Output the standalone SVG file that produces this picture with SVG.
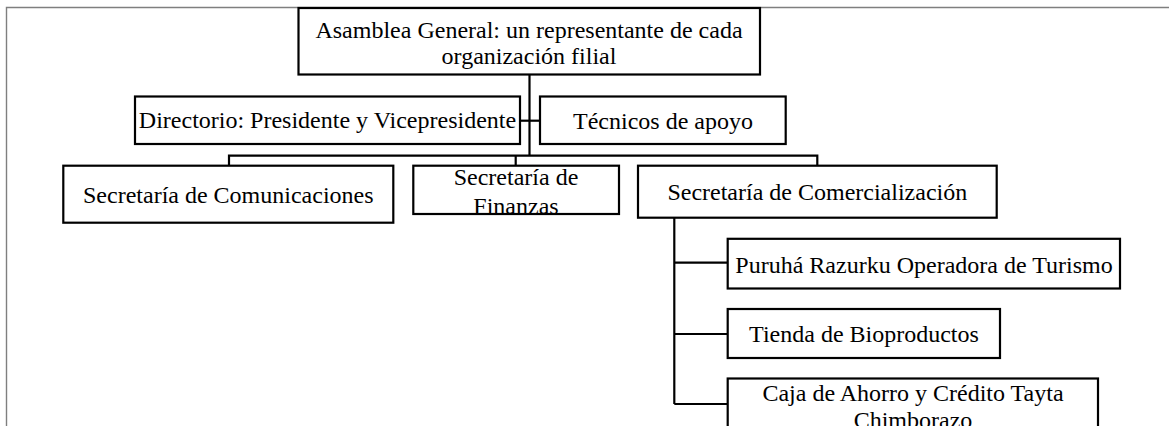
<svg xmlns="http://www.w3.org/2000/svg" width="1169" height="426" viewBox="0 0 1169 426">
<style>
.box{fill:#fff;stroke:#000;stroke-width:2.2}
.frame{fill:none;stroke:#7f7f7f;stroke-width:1.4}
.conn{fill:none;stroke:#000;stroke-width:2.2}
text{font-family:"Liberation Serif","Times New Roman",serif;font-size:24px;fill:#000;text-anchor:middle}
</style>
<defs>
<clipPath id="finClip"><rect x="413" y="166" width="206" height="47"/></clipPath>
</defs>
<rect width="1169" height="426" fill="#fff"/>
<path class="frame" d="M6.5,426 V7.5 H1169"/>
<g id="connectors">
<path class="conn" d="M529.5,74.5 V155.7"/>
<path class="conn" d="M520,120.7 H540"/>
<path class="conn" d="M229,165.7 V155.7 H817.3 V165.7"/>
<path class="conn" d="M515.7,155.7 V165.7"/>
<path class="conn" d="M674.3,217.7 V404"/>
<path class="conn" d="M674.3,262.7 H727.7"/>
<path class="conn" d="M674.3,334 H727.7"/>
<path class="conn" d="M674.3,404 H727.7"/>
</g>
<g id="asamblea">
<rect class="box" x="298.5" y="8" width="461.5" height="66.5"/>
<text x="529" y="37.5">Asamblea General: un representante de cada</text>
<text x="529" y="64">organización filial</text>
</g>
<g id="directorio">
<rect class="box" x="135" y="96.5" width="385" height="47.5"/>
<text x="327.5" y="128.3">Directorio: Presidente y Vicepresidente</text>
</g>
<g id="tecnicos">
<rect class="box" x="540" y="96.5" width="245.7" height="47.5"/>
<text x="663" y="129.3">Técnicos de apoyo</text>
</g>
<g id="comunicaciones">
<rect class="box" x="63.3" y="165.7" width="330" height="57"/>
<text x="228.3" y="203.3">Secretaría de Comunicaciones</text>
</g>
<g id="finanzas">
<rect class="box" x="413.3" y="165.7" width="205.7" height="48.3"/>
<g clip-path="url(#finClip)">
<text x="516" y="185">Secretaría de</text>
<text x="516" y="214">Finanzas</text>
</g>
</g>
<g id="comercializacion">
<rect class="box" x="638" y="165.7" width="358.7" height="52"/>
<text x="817.3" y="200">Secretaría de Comercialización</text>
</g>
<g id="puruha">
<rect class="box" x="727.7" y="238.8" width="392.3" height="49.7"/>
<text x="924" y="272.7">Puruhá Razurku Operadora de Turismo</text>
</g>
<g id="tienda">
<rect class="box" x="727.7" y="309" width="272.3" height="49"/>
<text x="864" y="341.7">Tienda de Bioproductos</text>
</g>
<g id="caja">
<rect class="box" x="727.7" y="378.5" width="370.3" height="60"/>
<text x="913" y="401">Caja de Ahorro y Crédito Tayta</text>
<text x="913" y="428">Chimborazo</text>
</g>
</svg>
